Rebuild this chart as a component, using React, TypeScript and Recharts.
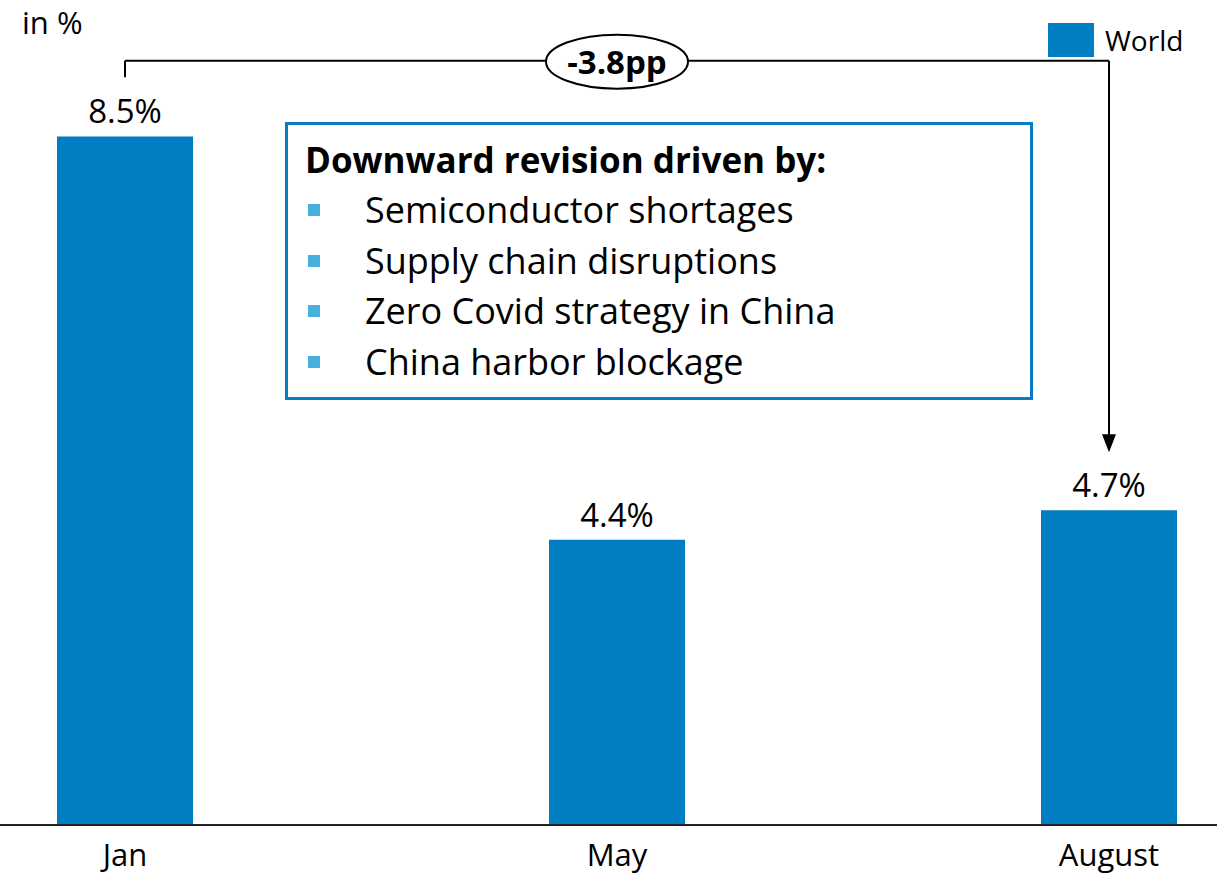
import { BarChart, Bar, XAxis, YAxis, LabelList, ReferenceLine, ReferenceDot, Legend } from 'recharts';

const FONT = "'Open Sans', sans-serif";
const BLUE = '#007dc3';

// data
const months = ['Jan', 'May', 'August'];
const worldGrowth = [8.5, 4.4, 4.7];
const revisionLabel = '-3.8pp';
const drivers = [
    'Semiconductor shortages',
    'Supply chain disruptions',
    'Zero Covid strategy in China',
    'China harbor blockage',
];

const data = months.map((m, i) => ({ month: m, world: worldGrowth[i] }));

// annotation heights (in axis units)
const bracketTop = 9.27;
const bracketLeftEnd = 9.1;
const arrowEnd = 5.46;
const arrowTip = 5.29;

function RevisionBubble(props: any) {
    const { cx, cy } = props;
    return (
        <g>
            <ellipse cx={cx} cy={cy + 1} rx={71} ry={27} fill="#fff" stroke="#000" strokeWidth={2} />
            <text x={cx} y={cy + 1} textAnchor="middle" dominantBaseline="central"
                fontFamily={FONT} fontWeight={700} fontSize={33} fill="#000">{revisionLabel}</text>
        </g>
    );
}

function ArrowHead(props: any) {
    const { cx, cy } = props;
    return <path d={`M${cx - 7},${cy - 18} L${cx + 7},${cy - 18} L${cx},${cy} Z`} fill="#000" />;
}

function LegendBox() {
    return (
        <div style={{ display: 'flex', alignItems: 'center', fontFamily: FONT }}>
            <div style={{ width: 46, height: 34, background: BLUE, marginRight: 11 }} />
            <span style={{ fontSize: 28, color: '#000' }}>World</span>
        </div>
    );
}

export default function App() {
    return (
        <div style={{ position: 'absolute', left: 0, top: 0, width: 1217, height: 878, background: '#fff', fontFamily: FONT }}>
            <div style={{ position: 'absolute', left: 22, top: 3, fontSize: 31, lineHeight: '38px', color: '#000' }}>in %</div>
            <BarChart
                width={1217}
                height={878}
                data={data}
                margin={{ top: 38, right: -138, left: -121, bottom: 0 }}
                barCategoryGap={0}
            >
                <XAxis
                    dataKey="month"
                    height={53}
                    tickLine={false}
                    axisLine={{ stroke: '#222', strokeWidth: 2 }}
                    tickMargin={13}
                    tick={{ fontSize: 31, fill: '#000', fontFamily: FONT }}
                    interval={0}
                />
                <YAxis hide type="number" domain={[1.5, 9.5]} allowDataOverflow />
                <Legend
                    verticalAlign="middle"
                    align="center"
                    layout="horizontal"
                    wrapperStyle={{ top: 21, left: 1048, width: 165 }}
                    content={() => <LegendBox />}
                />
                <Bar dataKey="world" name="World" fill={BLUE} barSize={136} isAnimationActive={false}>
                    <LabelList dataKey="world" position="top" offset={13}
                        formatter={(v: any) => `${v}%`}
                        style={{ fontSize: 33, fill: '#000', fontFamily: FONT }} />
                </Bar>
                <ReferenceLine segment={[{ x: 'Jan', y: bracketLeftEnd }, { x: 'Jan', y: bracketTop }]} stroke="#000" strokeWidth={2} />
                <ReferenceLine segment={[{ x: 'Jan', y: bracketTop }, { x: 'August', y: bracketTop }]} stroke="#000" strokeWidth={2} />
                <ReferenceLine segment={[{ x: 'August', y: bracketTop }, { x: 'August', y: arrowEnd }]} stroke="#000" strokeWidth={2} />
                <ReferenceDot x="August" y={arrowTip} shape={ArrowHead} />
                <ReferenceDot x="May" y={bracketTop} shape={RevisionBubble} />
            </BarChart>
            <div style={{
                position: 'absolute', left: 285, top: 122, width: 748, height: 278,
                border: '3px solid #0a7dc2', boxSizing: 'border-box', background: '#fff',
                paddingTop: 10, paddingLeft: 17, color: '#000',
            }}>
                <div style={{ fontSize: 35, fontWeight: 700, lineHeight: '50px', whiteSpace: 'nowrap' }}>Downward revision driven by:</div>
                {drivers.map((d) => (
                    <div key={d} style={{ position: 'relative', fontSize: 36, lineHeight: '50.5px', paddingLeft: 60, whiteSpace: 'nowrap' }}>
                        <span style={{ position: 'absolute', left: 3, top: 19, width: 12, height: 12, background: '#45b1e0' }} />
                        {d}
                    </div>
                ))}
            </div>
        </div>
    );
}
